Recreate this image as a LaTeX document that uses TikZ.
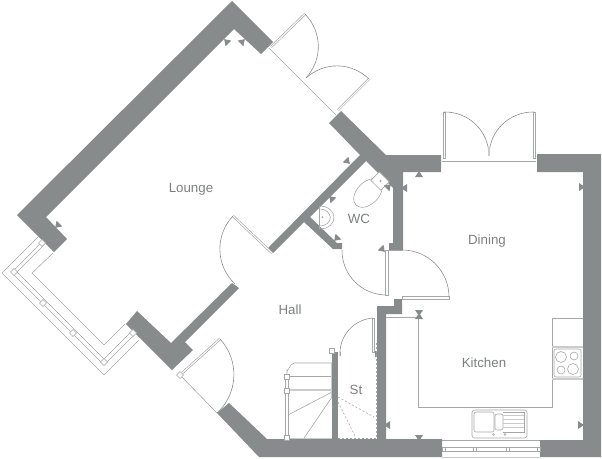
\documentclass[tikz,border=0pt]{standalone}
\usepackage{fontspec}
\setmainfont{Liberation Sans}
\definecolor{wallgrey}{HTML}{888B8B}
\definecolor{linegrey}{HTML}{A6A8A8}
\definecolor{textgrey}{HTML}{7D8080}
\tikzset{
    wall/.style={fill=wallgrey, draw=none},
    thinline/.style={draw=linegrey, line width=0.45pt},
    softline/.style={draw=linegrey!60, line width=1pt},
    leaf/.style={draw=linegrey, line width=0.5pt, double=white, double distance=0.8pt},
    leafbox/.style={draw=linegrey, line width=0.45pt, fill=white},
    swing/.style={draw=linegrey!85!black, line width=0.45pt},
    dashline/.style={draw=linegrey, line width=0.45pt, dash pattern=on 1.5pt off 1.5pt},
    post/.style={draw=linegrey, fill=white, line width=0.4pt, inner sep=0pt, minimum size=3.8pt},
    room/.style={text=textgrey, font=\fontsize{10}{12}\selectfont, inner sep=0pt},
    tickmark/.style={fill=wallgrey, draw=none}
}
\begin{document}
\begin{tikzpicture}[x=0.75pt, y=-0.75pt]
    \useasboundingbox (0,0) rectangle (602,458);

    \path[wall] (232,1) -- (273,42) -- (261,54) -- (234,29) -- (46,217) -- (67,239) -- (54,252) -- (17,215) -- cycle;
    \path[wall] (137,311) -- (171,343) -- (232,283) -- (239,288) -- (185,342) -- (193,350) -- (172,370) -- (126,324) -- cycle;
    \path[wall] (341,111) -- (386,155) -- (441,155) -- (441,172) -- (403,172) -- (403,250) -- (389,250) -- (389,243) -- (393,243) -- (393,188) -- (366,161) -- (310,217) -- (337,243) -- (342,243) -- (342,249) -- (333,249) -- (304,222) -- (273,253) -- (268,248) -- (360,155) -- (329,123) -- cycle;
    \path[wall] (229,403) -- (267,439) -- (442,439) -- (442,457) -- (259,457) -- (217,413) -- cycle;
    \path[wall] (537,154) -- (601,154) -- (601,457) -- (540,457) -- (540,440) -- (583,440) -- (583,172) -- (537,172) -- cycle;
    \path[wall] (377,306) -- (394,306) -- (394,299) -- (402,299) -- (402,314) -- (386,314) -- (386,440) -- (377,440) -- (377,357) -- (375,357) -- (375,351) -- (377,351) -- cycle;
    \path[wall] (332,352) rectangle (338,440);

    \draw[thinline] (38,237) -- (2,273) -- (104,375) -- (139,340);
    \draw[thinline] (53,253) -- (32,273) -- (104,345) -- (125,324);
    \draw[thinline] (42,242) -- (11.5,272.5) -- (104,365) -- (134.5,334.5);
    \draw[thinline] (44.5,244.5) -- (17,272) -- (104,359) -- (131.5,331.5);
    \foreach \px/\py [count=\i] in {42/243, 14/272, 43/303, 73/333, 104/362, 133/333}
        \node[post, rotate=45] (bay\i) at (\px,\py) {};

    \draw[thinline] (269,48) -- (336,115);
    \draw[leaf] (271,47) -- (305,14);
    \draw[leaf] (338,110) -- (369,79);
    \draw[swing] (305,14) to[bend left=43] (306,78);
    \draw[swing] (369,79) to[bend right=43] (306,78);

    \draw[thinline] (442,161.5) -- (536,161.5);
    \draw[leafbox] (443,112) rectangle (445.5,158);
    \draw[leafbox] (533,112) rectangle (535.5,158);
    \draw[swing] (444,112) to[bend left=45] (489,155);
    \draw[swing] (534,112) to[bend right=45] (489,155);
    \draw[softline] (489,148) -- (489,156);

    \draw[leaf] (272,253) -- (233,216);
    \draw[swing] (233,216) to[bend right=45] (235,284);

    \draw[thinline] (180,375) -- (217,413);
    \draw[leaf] (180,375) -- (220,339);
    \draw[swing] (220,339) to[bend left=45] (217,413);
    \node[post, rotate=45] (entry) at (180,375) {};

    \draw[leafbox] (385,250) rectangle (388,295);
    \draw[swing] (386,295) to[bend left=45] (342,250);
    \draw[leafbox] (402,296.5) rectangle (449,299);
    \draw[swing] (449,297) to[bend right=45] (402,250);
    \draw[thinline] (389,250) -- (403,250);

    \draw[leafbox] (372,318) rectangle (374.5,352);
    \draw[swing] (373,318) to[bend right=45] (340,356);
    \draw[thinline] (340,352) -- (340,356);

    \draw[thinline] (332,363) -- (294,363) to[out=180, in=-90] (287,370) -- (287,377);
    \draw[leafbox] (285.5,377) rectangle (288.5,438);
    \draw[thinline] (289,376) -- (332,376);
    \draw[softline] (289,390) -- (332,390);
    \draw[thinline] (288,415) -- (332,392);
    \draw[thinline] (304,438) -- (332,397);
    \draw[softline] (287,438.5) -- (332,438.5);
    \draw[softline] (331.5,363) -- (331.5,397);
    \foreach \px/\py [count=\i] in {332/351, 287/377, 287/391, 287/438}
        \node[post] (stair\i) at (\px,\py) {};
    \draw[dashline] (338,397) -- (374,417);
    \draw[dashline] (338,402) -- (356,438);
    \draw[dashline] (338,438) -- (377,438);
    \draw[dashline] (376.5,343) -- (376.5,438);

    \draw[thinline] (386,317) -- (418,317) -- (418,407) -- (552,407) -- (552,318) -- (583,318);
    \draw[softline] (552,347) -- (583,347);
    \draw[softline] (552,379) -- (583,379);
    \draw[thinline, rounded corners=1.5pt] (554,349) rectangle (581,377);
    \draw[thinline] (561,357) circle[radius=5.5];
    \draw[thinline] (574,356) circle[radius=4];
    \draw[thinline] (561,370) circle[radius=4];
    \draw[thinline] (573,369) circle[radius=5.5];

    \draw[thinline, rounded corners=2pt] (472,410) rectangle (527,438);
    \draw[thinline, rounded corners=1.5pt] (474,412) rectangle (494,432);
    \draw[thinline, rounded corners=1.5pt] (495,414) rectangle (503,430);
    \draw[thinline] (503,412) -- (524,412) -- (524,432) -- (503,432);
    \foreach \py in {415,419,423,427}
        \draw[softline, line width=0.6pt] (503,\py) -- (524,\py);
    \draw[thinline] (493.5,434.5) circle[radius=1];
    \draw[thinline] (505,434.5) circle[radius=1];

    \draw[thinline] (442,440) -- (540,440);
    \draw[softline, line width=0.5pt] (442,457) -- (540,457);
    \draw[thinline] (442,447) -- (540,447);
    \draw[thinline] (442,451) -- (540,451);
    \foreach \px in {442,473,506,537}
        \draw[thinline] (\px,447) rectangle ++(3,4);

    \draw[thinline, rotate around={45:(368,193)}] (368,193) ellipse (17 and 11);
    \draw[fill=white, thinline, rotate around={-45:(380,181)}] (373,175) rectangle (387,187);
    \fill[linegrey] (380.5,181) circle[radius=1.2];

    \draw[thinline] (319,206) .. controls (339,206) and (339,229) .. (319,229);
    \draw[thinline] (319,209) .. controls (334,209) and (334,226) .. (319,226);
    \draw[thinline] (319,206) -- (319,229);
    \fill[linegrey] (322.5,217) circle[radius=1];

    \foreach \px/\py/\ang in {227/42/135, 242/42/45, 58/225/225, 347/161/-45, 332/199/135, 337/238/225, 382/249/-45, 388/187/45, 405/188/180, 419/175/90, 419/312/-90, 419/317/90, 419/437/-90, 388/425/180, 580/425/0, 581/187/0}
        \fill[tickmark, shift={(\px,\py)}, rotate=\ang] (4,0) -- (-2,4) -- (-2,-4) -- cycle;

    \node[room] (lounge) at (191,189) {Lounge};
    \node[room] (dining) at (487,241) {Dining};
    \node[room] (wc) at (359,218.5) {WC};
    \node[room] (hall) at (290,310) {Hall};
    \node[room] (st) at (356,390) {St};
    \node[room] (kitchen) at (484,362.5) {Kitchen};
\end{tikzpicture}
\end{document}
